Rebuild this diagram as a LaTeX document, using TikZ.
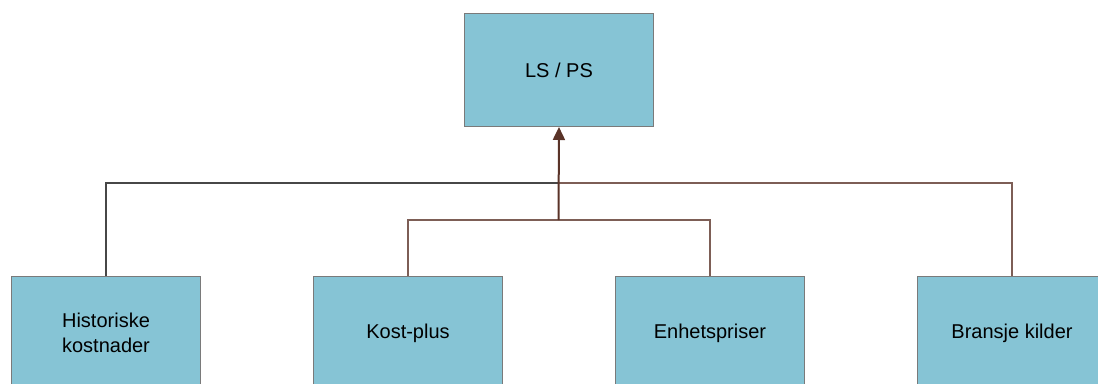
\documentclass[tikz,border=0pt]{standalone}
\usepackage{fontspec}
\setmainfont{Liberation Sans}
\usetikzlibrary{arrows.meta}
\definecolor{boxfill}{HTML}{86C4D5}
\definecolor{boxline}{HTML}{7A7A7A}
\definecolor{darkline}{HTML}{474747}
\definecolor{brownline}{HTML}{7D5E56}
\definecolor{arrowbrown}{HTML}{5A3328}
\tikzset{
  unit/.style={draw=boxline, line width=1pt, fill=boxfill, minimum width=189pt, minimum height=113pt,
    inner sep=0pt, align=center, font=\fontsize{20}{25}\selectfont, anchor=north west},
  darklink/.style={draw=darkline, line width=2pt},
  brownlink/.style={draw=brownline, line width=1.5pt},
}
\begin{document}
\begin{tikzpicture}[x=1pt,y=-1pt]
\useasboundingbox (0,0) rectangle (1098,383);
\begin{scope}
\clip (0,0) rectangle (1098,383);
\node[unit] (top) at (464,13) {LS / PS};
\node[unit] (hist) at (11,276) {Historiske\\kostnader};
\node[unit] (kost) at (313,276) {Kost-plus};
\node[unit] (enh) at (615,276) {Enhetspriser};
\node[unit] (bra) at (917,276) {Bransje kilder};
\coordinate (hub) at (558.5,183);
\coordinate (mid) at (558.5,220);
\draw[darklink] (hist.north) |- (hub);
\draw[brownlink] (hub) -| (bra.north);
\draw[brownlink] (kost.north) |- (mid) -| (enh.north);
\draw[draw=arrowbrown, line width=2pt, -{Triangle[length=13pt,width=12pt]}] (mid) -- (top.south);
\end{scope}
\end{tikzpicture}
\end{document}
